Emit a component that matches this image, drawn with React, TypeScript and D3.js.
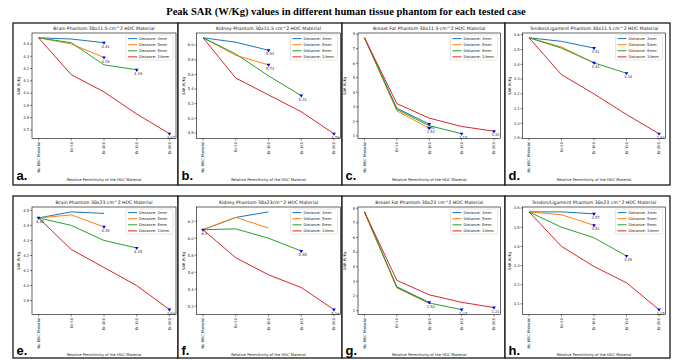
import React from 'react';
import * as d3 from 'd3';

const categories = ['No HDC Material', 'Er:50', 'Er:100', 'Er:150', 'Er:200'];
const seriesNames = ['Distance: 3mm', 'Distance: 5mm', 'Distance: 8mm', 'Distance: 10mm'];
const seriesColors = ['#1f77b4', '#ff7f0e', '#2ca02c', '#d62728'];
const mainTitle = 'Peak SAR (W/Kg) values in different human tissue phantom for each tested case';
const xLabel = 'Relative Permittivity of the HDC Material';
const yLabel = 'SAR W/Kg';

// a. Brain 30x11.5
const brainA_3 = [4.45, 4.44, 4.41];
const brainA_5 = [4.45, 4.40, 4.29];
const brainA_8 = [4.45, 4.41, 4.23, 4.19];
const brainA_10 = [4.45, 4.15, 4.01, 3.83, 3.67];
const brainA_marks: [number, number, string][] = [[2, 4.41, '4.41'], [2, 4.29, '4.29'], [3, 4.19, '4.19'], [4, 3.67, '3.67']];
const brainA_ticks = [3.7, 3.8, 3.9, 4.0, 4.1, 4.2, 4.3, 4.4];

// b. Kidney 30x11.5
const kidneyB_3 = [6.10, 6.04, 5.93];
const kidneyB_5 = [6.10, 5.86, 5.73];
const kidneyB_8 = [6.10, 5.88, 5.58, 5.31];
const kidneyB_10 = [6.10, 5.55, 5.32, 5.09, 4.79];
const kidneyB_marks: [number, number, string][] = [[2, 5.93, '5.93'], [2, 5.73, '5.73'], [3, 5.31, '5.31'], [4, 4.79, '4.79']];
const kidneyB_ticks = [4.8, 5.0, 5.2, 5.4, 5.6, 5.8, 6.0];

// c. Breast fat 30x11.5
const fatC_3 = [7.75, 2.90, 1.81];
const fatC_5 = [7.75, 2.72, 1.53];
const fatC_8 = [7.75, 2.82, 1.70, 1.15];
const fatC_10 = [7.75, 3.22, 2.22, 1.65, 1.32];
const fatC_marks: [number, number, string][] = [[2, 1.81, '1.81'], [2, 1.53, '1.53'], [3, 1.15, '1.15'], [4, 1.32, '1.32']];
const fatC_ticks = [1, 2, 3, 4, 5, 6, 7, 8];

// d. Tendon 30x11.5
const tendonD_3 = [3.58, 3.556, 3.51];
const tendonD_5 = [3.58, 3.518, 3.41];
const tendonD_8 = [3.58, 3.51, 3.41, 3.34];
const tendonD_10 = [3.58, 3.33, 3.20, 3.06, 2.93];
const tendonD_marks: [number, number, string][] = [[2, 3.51, '3.51'], [2, 3.41, '3.41'], [3, 3.34, '3.34'], [4, 2.93, '2.93']];
const tendonD_ticks = [2.9, 3.0, 3.1, 3.2, 3.3, 3.4, 3.5, 3.6];

// e. Brain 30x23
const brainE_3 = [4.45, 4.49, 4.48];
const brainE_5 = [4.45, 4.47, 4.39];
const brainE_8 = [4.45, 4.40, 4.30, 4.25];
const brainE_10 = [4.45, 4.24, 4.12, 4.00, 3.84];
const brainE_marks: [number, number, string][] = [[0, 4.45, '4.45'], [2, 4.39, '4.39'], [3, 4.25, '4.25'], [4, 3.84, '3.84']];
const brainE_ticks = [3.9, 4.0, 4.1, 4.2, 4.3, 4.4, 4.5];

// f. Kidney 30x23
const kidneyF_3 = [6.10, 6.245, 6.31];
const kidneyF_5 = [6.10, 6.245, 6.12];
const kidneyF_8 = [6.10, 6.11, 6.00, 5.85];
const kidneyF_10 = [6.10, 5.77, 5.57, 5.42, 5.16];
const kidneyF_marks: [number, number, string][] = [[0, 6.10, '6.1'], [3, 5.85, '5.85'], [4, 5.16, '5.16']];
const kidneyF_ticks = [5.2, 5.4, 5.6, 5.8, 6.0, 6.2];

// g. Breast fat 30x23
const fatG_3 = [7.75, 2.63, 1.56];
const fatG_5 = [7.75, 2.55, 1.50];
const fatG_8 = [7.75, 2.60, 1.52, 1.07];
const fatG_10 = [7.75, 3.07, 2.08, 1.57, 1.21];
const fatG_marks: [number, number, string][] = [[2, 1.56, '1.50'], [3, 1.07, '1.07'], [4, 1.21, '1.21']];
const fatG_ticks = [1, 2, 3, 4, 5, 6, 7, 8];

// h. Tendon 30x23
const tendonH_3 = [3.58, 3.58, 3.57];
const tendonH_5 = [3.58, 3.565, 3.51];
const tendonH_8 = [3.58, 3.50, 3.445, 3.35];
const tendonH_10 = [3.58, 3.40, 3.295, 3.21, 3.07];
const tendonH_marks: [number, number, string][] = [[2, 3.57, '3.57'], [2, 3.51, '3.51'], [3, 3.35, '3.35'], [4, 3.07, '3.07']];
const tendonH_ticks = [3.1, 3.2, 3.3, 3.4, 3.5, 3.6];

const fmt = (v: number, intTicks: boolean) => (intTicks ? d3.format('d')(v) : d3.format('.1f')(v));

type Panel = {
  letter: string;
  title: string;
  series: number[][];
  marks: [number, number, string][];
  ticks: number[];
  intTicks: boolean;
  col: number;
  row: number;
};

const panels: Panel[] = [
  { letter: 'a.', title: 'Brain Phantom 30x11.5 cm^2 HDC Material', series: [brainA_3, brainA_5, brainA_8, brainA_10], marks: brainA_marks, ticks: brainA_ticks, intTicks: false, col: 0, row: 0 },
  { letter: 'b.', title: 'Kidney Phantom 30x11.5 cm^2 HDC Material', series: [kidneyB_3, kidneyB_5, kidneyB_8, kidneyB_10], marks: kidneyB_marks, ticks: kidneyB_ticks, intTicks: false, col: 1, row: 0 },
  { letter: 'c.', title: 'Breast Fat Phantom 30x11.5 cm^2 HDC Material', series: [fatC_3, fatC_5, fatC_8, fatC_10], marks: fatC_marks, ticks: fatC_ticks, intTicks: true, col: 2, row: 0 },
  { letter: 'd.', title: 'Tendon/Ligament Phantom 30x11.5 cm^2 HDC Material', series: [tendonD_3, tendonD_5, tendonD_8, tendonD_10], marks: tendonD_marks, ticks: tendonD_ticks, intTicks: false, col: 3, row: 0 },
  { letter: 'e.', title: 'Brain Phantom 30x23 cm^2 HDC Material', series: [brainE_3, brainE_5, brainE_8, brainE_10], marks: brainE_marks, ticks: brainE_ticks, intTicks: false, col: 0, row: 1 },
  { letter: 'f.', title: 'Kidney Phantom 30x23cm^2 HDC Material', series: [kidneyF_3, kidneyF_5, kidneyF_8, kidneyF_10], marks: kidneyF_marks, ticks: kidneyF_ticks, intTicks: false, col: 1, row: 1 },
  { letter: 'g.', title: 'Breast Fat Phantom 30x23 cm^2 HDC Material', series: [fatG_3, fatG_5, fatG_8, fatG_10], marks: fatG_marks, ticks: fatG_ticks, intTicks: true, col: 2, row: 1 },
  { letter: 'h.', title: 'Tendon/Ligament Phantom 30x23 cm^2 HDC Material', series: [tendonH_3, tendonH_5, tendonH_8, tendonH_10], marks: tendonH_marks, ticks: tendonH_ticks, intTicks: false, col: 3, row: 1 },
];

// layout
const boxCols = [[13, 178], [178, 342], [342, 505], [505, 670]];
const boxRows = [[23, 185], [196, 358]];
const axCols = [[32, 176], [196.5, 340.5], [358, 500.5], [522.5, 665.5]];
const axRows = [[33, 138.5], [207, 314.5]];
const xLabelY = [180.5, 355.5];
const letterY = [180, 355];

const FONT = 'DejaVu Sans, sans-serif';
const fs = 3.7;

function PanelView({ p }: { p: Panel }) {
  const [bx0, bx1] = boxCols[p.col];
  const [by0, by1] = boxRows[p.row];
  const [ax0, ax1] = axCols[p.col];
  const [ay0, ay1] = axRows[p.row];
  const x = d3.scalePoint<number>().domain(d3.range(categories.length)).range([ax0, ax1]).padding(0.2);
  const all = p.series.flat();
  const mn = d3.min(all)!, mx = d3.max(all)!;
  const m = (mx - mn) * 0.05;
  const y = d3.scaleLinear().domain([mn - m, mx + m]).range([ay1, ay0]);
  const line = d3.line<number>().x((_, i) => x(i)!).y((d) => y(d));
  const tri = d3.symbol(d3.symbolTriangle, 6)();
  const lgW = 47, lgH = 25;
  const lgX = ax1 - 3 - lgW, lgY = ay0 + 2;
  const cx = (ax0 + ax1) / 2;
  return (
    <g>
      <rect x={bx0} y={by0} width={bx1 - bx0} height={by1 - by0} fill="white" stroke="#1a1a1a" strokeWidth={1.3} />
      <text x={cx} y={ay0 - 3.3} textAnchor="middle" fontSize={4.6} fontFamily={FONT} fill="#111">{p.title}</text>
      {p.ticks.map((t) => (
        <g key={t}>
          <line x1={ax0 - 2} x2={ax0} y1={y(t)} y2={y(t)} stroke="#000" strokeWidth={0.5} />
          <text x={ax0 - 3} y={y(t) + 1.3} textAnchor="end" fontSize={fs} fontFamily={FONT} fill="#111">{fmt(t, p.intTicks)}</text>
        </g>
      ))}
      {categories.map((c, i) => (
        <g key={c}>
          <line x1={x(i)} x2={x(i)} y1={ay1} y2={ay1 + 2} stroke="#000" strokeWidth={0.5} />
          <text transform={`translate(${x(i)! + 1.3},${ay1 + 3.5}) rotate(-90)`} textAnchor="end" fontSize={fs} fontFamily={FONT} fill="#111">{c}</text>
        </g>
      ))}
      {p.series.map((s, i) => (
        <path key={i} d={line(s)!} fill="none" stroke={seriesColors[i]} strokeWidth={1} />
      ))}
      {p.marks.map(([xi, v, lab], i) => (
        <g key={i}>
          <path d={tri!} transform={`translate(${x(xi)},${y(v)}) rotate(180)`} fill="#0000ff" />
          <text x={x(xi)! + 1.5} y={y(v) + 5.2} textAnchor="middle" fontSize={fs} fontFamily={FONT} fill="#222">{lab}</text>
        </g>
      ))}
      <rect x={ax0} y={ay0} width={ax1 - ax0} height={ay1 - ay0} fill="none" stroke="#000" strokeWidth={0.6} />
      <g>
        <rect x={lgX} y={lgY} width={lgW} height={lgH} rx={1.5} fill="white" fillOpacity={0.8} stroke="#cccccc" strokeWidth={0.5} />
        {seriesNames.map((n, i) => (
          <g key={n}>
            <line x1={lgX + 2} x2={lgX + 11} y1={lgY + 3.6 + i * 6.1} y2={lgY + 3.6 + i * 6.1} stroke={seriesColors[i]} strokeWidth={1} />
            <text x={lgX + 13} y={lgY + 3.6 + i * 6.1 + 1.3} fontSize={fs} fontFamily={FONT} fill="#111">{n}</text>
          </g>
        ))}
      </g>
      <text transform={`translate(${ax0 - 12},${(ay0 + ay1) / 2}) rotate(-90)`} textAnchor="middle" fontSize={fs} fontFamily={FONT} fill="#111">{yLabel}</text>
      <text x={cx} y={xLabelY[p.row]} textAnchor="middle" fontSize={fs} fontFamily={FONT} fill="#111">{xLabel}</text>
      <text x={bx0 + 3.5} y={letterY[p.row]} fontSize={13} fontWeight="bold" fontFamily="Liberation Sans, Arial, sans-serif" fill="#000">{p.letter}</text>
    </g>
  );
}

export default function App() {
  return (
    <svg width={674} height={360} style={{ position: 'absolute', left: 0, top: 0, background: 'white' }}>
      <rect width={674} height={360} fill="white" />
      <text x={346} y={15} textAnchor="middle" fontSize={10.5} fontWeight="bold" fontFamily="Liberation Serif, Times New Roman, serif" fill="#000">{mainTitle}</text>
      {panels.map((p) => (
        <PanelView key={p.letter} p={p} />
      ))}
    </svg>
  );
}
